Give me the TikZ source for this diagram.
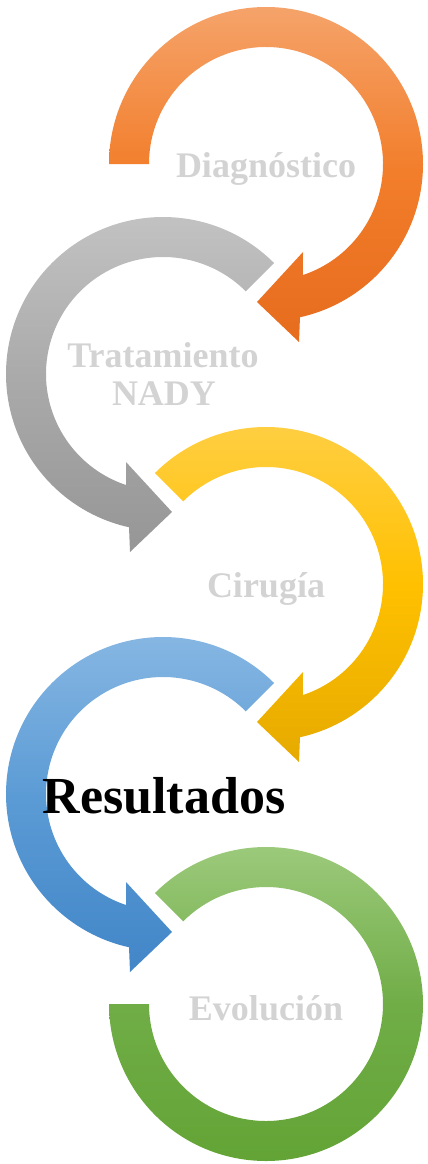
\documentclass[tikz,border=0pt]{standalone}
\usepackage{fontspec}
\setmainfont{Liberation Serif}
\definecolor{oT}{RGB}{245,163,106}
\definecolor{oM}{RGB}{242,125,42}
\definecolor{oB}{RGB}{230,108,30}
\definecolor{gT}{RGB}{196,196,196}
\definecolor{gM}{RGB}{170,170,170}
\definecolor{gB}{RGB}{150,150,150}
\definecolor{yT}{RGB}{255,208,72}
\definecolor{yM}{RGB}{255,192,0}
\definecolor{yB}{RGB}{230,170,0}
\definecolor{bT}{RGB}{138,185,228}
\definecolor{bM}{RGB}{91,155,213}
\definecolor{bB}{RGB}{66,134,200}
\definecolor{vT}{RGB}{160,204,128}
\definecolor{vM}{RGB}{112,173,71}
\definecolor{vB}{RGB}{98,163,52}
\definecolor{lbl}{RGB}{211,211,211}
\tikzset{
  orangefill/.style={top color=oT,bottom color=oB,middle color=oM},
  grayfill/.style={top color=gT,bottom color=gB,middle color=gM},
  yellowfill/.style={top color=yT,bottom color=yB,middle color=yM},
  bluefill/.style={top color=bT,bottom color=bB,middle color=bM},
  greenfill/.style={top color=vT,bottom color=vB,middle color=vM},
  steplabel/.style={font=\bfseries\fontsize{36}{40}\selectfont,text=lbl,anchor=base,inner sep=0pt,align=center},
  mainlabel/.style={font=\bfseries\fontsize{52}{60}\selectfont,text=black,anchor=base,inner sep=0pt},
}
\begin{document}
\begin{tikzpicture}[x=1pt,y=-1pt]
\useasboundingbox (0,0) rectangle (428,1164);
% orange ring, clockwise, arrow at bottom
\begin{scope}[shift={(266,164)}]
\path[orangefill] (180:157) arc[start angle=180,end angle=437.5,radius=157]
  -- (33,178) -- (-9,138) -- (37,88) -- (71.6:117)
  arc[start angle=71.6,end angle=-180,radius=117] -- cycle;
\end{scope}
% gray ring, counter-clockwise
\begin{scope}[shift={(163,374)}]
\path[grayfill] (-45:157) arc[start angle=-45,end angle=-257.5,radius=157]
  -- (-33,178) -- (9,138) -- (-37,88) -- (108.4:117)
  arc[start angle=-251.6,end angle=-45,radius=117] -- cycle;
\end{scope}
% yellow ring
\begin{scope}[shift={(266,584)}]
\path[yellowfill] (225:157) arc[start angle=225,end angle=437.5,radius=157]
  -- (33,178) -- (-9,138) -- (37,88) -- (71.6:117)
  arc[start angle=71.6,end angle=-135,radius=117] -- cycle;
\end{scope}
% blue ring
\begin{scope}[shift={(163,794)}]
\path[bluefill] (-45:157) arc[start angle=-45,end angle=-257.5,radius=157]
  -- (-33,178) -- (9,138) -- (-37,88) -- (108.4:117)
  arc[start angle=-251.6,end angle=-45,radius=117] -- cycle;
\end{scope}
% green ring, no arrow
\begin{scope}[shift={(266,1004)}]
\path[greenfill] (225:157) arc[start angle=225,end angle=540,radius=157]
  -- (180:117) arc[start angle=540,end angle=225,radius=117] -- cycle;
\end{scope}
% labels
\node[steplabel] (diag) at (266,177) {Diagnóstico};
\node[steplabel] (trat) at (163,367) {Tratamiento};
\node[steplabel] (nady) at (164,405) {NADY};
\node[steplabel] (cir) at (266,597) {Cirugía};
\node[mainlabel] (res) at (164,813) {Resultados};
\node[steplabel] (evo) at (266,1020) {Evolución};
\end{tikzpicture}
\end{document}
